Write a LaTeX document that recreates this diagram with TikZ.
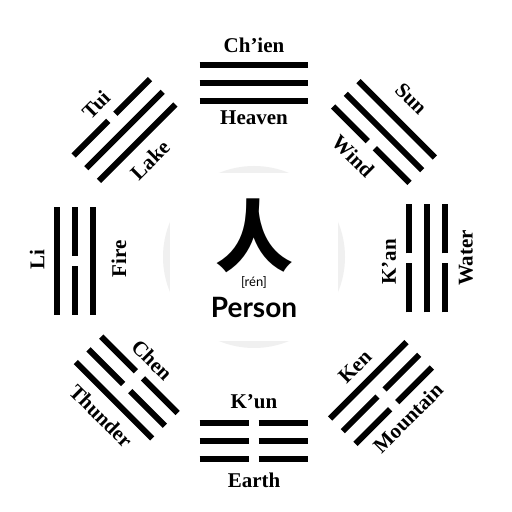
\documentclass[tikz,border=0pt]{standalone}
\usepackage{fontspec}
\setmainfont{Liberation Serif}
\newfontfamily\cjkfont{Noto Sans CJK SC}
\newfontfamily\latofont{Lato}
\usetikzlibrary{positioning}

% one line of a trigram: #1 local y, #2 = 1 solid, 0 broken
\newcommand{\yaoline}[2]{%
  \ifnum#2=1
    \draw[yao] (-54,#1) -- (54,#1);
  \else
    \draw[yao] (-54,#1) -- (-5,#1);
    \draw[yao] (5,#1) -- (54,#1);
  \fi}
% trigram: #1 centre, #2 angle, #3-#5 lines from local top to bottom
\newcommand{\trigram}[5]{%
  \begin{scope}[shift={#1},rotate=#2]
    \yaoline{18}{#3}\yaoline{0}{#4}\yaoline{-18}{#5}
  \end{scope}}

\begin{document}
\begin{tikzpicture}[
    x=1pt, y=1pt,
    yao/.style={line width=6pt, line cap=butt, black},
    lbl/.style={font=\bfseries\fontsize{21}{21}\selectfont, inner sep=0pt}
]
\useasboundingbox (0,0) rectangle (512,512);
\fill[white] (0,0) rectangle (512,512);

% centre card
\fill[gray!12] (254,255) circle (91);
\fill[white] (170,171) rectangle (338,339);
\node[inner sep=0pt, font=\cjkfont\bfseries\fontsize{78}{78}\selectfont] (ren) at (254,276) {人};
\node[inner sep=0pt, font=\latofont\fontsize{13}{13}\selectfont] (pinyin) at (254,230) {[rén]};
\node[inner sep=0pt, font=\latofont\bfseries\fontsize{28}{28}\selectfont] (person) at (254,205) {Person};

% trigrams
\trigram{(253.5,429)}{0}{1}{1}{1}     % Ch'ien
\trigram{(253.5,71)}{0}{0}{0}{0}      % K'un
\trigram{(74.5,251)}{90}{1}{0}{1}     % Li
\trigram{(427,253.5)}{90}{0}{1}{0}    % K'an
\trigram{(124.5,382)}{45}{0}{1}{1}    % Tui
\trigram{(384,380)}{-45}{1}{1}{0}     % Sun
\trigram{(126.7,124.5)}{-45}{0}{0}{1} % Chen
\trigram{(381,119)}{45}{1}{0}{0}      % Ken

% names
\node[lbl] (chien) at (254,467) {Ch’ien};
\node[lbl] (heaven) at (254,394) {Heaven};
\node[lbl] (kun) at (254,110) {K’un};
\node[lbl] (earth) at (254,32) {Earth};
\node[lbl, rotate=90] (li) at (37,252) {Li};
\node[lbl, rotate=90] (fire) at (119,253) {Fire};
\node[lbl, rotate=90] (kan) at (389,250) {K’an};
\node[lbl, rotate=90] (water) at (466,254) {Water};
\node[lbl, rotate=45] (tui) at (96,407) {Tui};
\node[lbl, rotate=45] (lake) at (150,352) {Lake};
\node[lbl, rotate=-45] (sun) at (411,413) {Sun};
\node[lbl, rotate=-45] (wind) at (353,356) {Wind};
\node[lbl, rotate=-45] (chen) at (152,152) {Chen};
\node[lbl, rotate=-45] (thunder) at (101,96) {Thunder};
\node[lbl, rotate=45] (ken) at (355,145) {Ken};
\node[lbl, rotate=45] (mountain) at (408,94) {Mountain};
\end{tikzpicture}
\end{document}
